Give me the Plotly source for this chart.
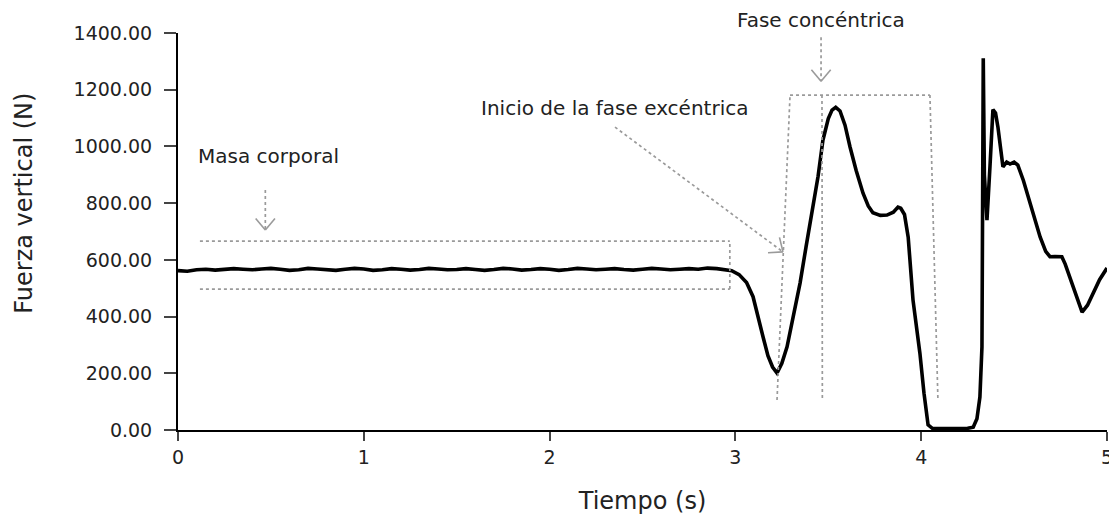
import math
import plotly.graph_objects as go

# ---- data ----
tiempo = [0.00, 0.05, 0.10, 0.15, 0.20, 0.25, 0.30, 0.35, 0.40, 0.45, 0.50, 0.55, 0.60, 0.65,
          0.70, 0.75, 0.80, 0.85, 0.90, 0.95, 1.00, 1.05, 1.10, 1.15, 1.20, 1.25, 1.30, 1.35,
          1.40, 1.45, 1.50, 1.55, 1.60, 1.65, 1.70, 1.75, 1.80, 1.85, 1.90, 1.95, 2.00, 2.05,
          2.10, 2.15, 2.20, 2.25, 2.30, 2.35, 2.40, 2.45, 2.50, 2.55, 2.60, 2.65, 2.70, 2.75,
          2.80, 2.85, 2.90, 2.95, 2.98, 3.02, 3.06, 3.095, 3.12, 3.149, 3.175, 3.20, 3.224,
          3.25, 3.278, 3.31, 3.348, 3.38, 3.418, 3.445, 3.471, 3.50, 3.52, 3.54, 3.563, 3.59,
          3.617, 3.65, 3.687, 3.715, 3.74, 3.78, 3.816, 3.85, 3.875, 3.89, 3.91, 3.93, 3.956,
          3.993, 4.015, 4.037, 4.06, 4.10, 4.15, 4.20, 4.25, 4.28, 4.30, 4.316, 4.327, 4.334,
          4.340, 4.354, 4.37, 4.386, 4.40, 4.413, 4.428, 4.44, 4.46, 4.478, 4.50, 4.52, 4.55,
          4.575, 4.61, 4.64, 4.67, 4.693, 4.72, 4.757, 4.775, 4.80, 4.835, 4.866, 4.895, 4.925,
          4.96, 5.00]
fuerza = [562, 560, 565, 567, 564, 566, 569, 567, 565, 568, 570, 567, 563, 565,
          570, 568, 565, 563, 567, 570, 568, 563, 565, 569, 567, 564, 566, 570,
          568, 565, 566, 569, 566, 563, 566, 570, 568, 564, 566, 569, 567, 563,
          566, 570, 568, 565, 567, 569, 566, 564, 567, 570, 568, 565, 567, 569,
          567, 571, 569, 566, 562, 548, 520, 470, 400, 328, 262, 222, 201,
          235, 293, 390, 518, 645, 786, 895, 1022, 1098, 1128, 1138, 1125, 1075,
          998, 915, 835, 790, 766, 757, 758, 768, 786, 782, 760, 680, 458,
          271, 130, 18, 6, 5, 5, 5, 6, 10, 40, 116, 293, 1311,
          900, 740, 928, 1130, 1118, 1068, 990, 928, 945, 938, 945, 934, 880,
          822, 740, 681, 630, 611, 612, 611, 585, 540, 470, 416, 440, 483,
          530, 571]

x_ticks = [0, 1, 2, 3, 4, 5]
y_ticks = [0, 200, 400, 600, 800, 1000, 1200, 1400]
y_tick_labels = ["%.2f" % v for v in y_ticks]

# pixel-to-data scale of the plot area (929 px for 5 s, 397 px for 1400 N)
PX_X = 929 / 5.0
PX_Y = 397 / 1400.0

FONT = "DejaVu Sans"
TXT = "#222222"
GREY = "#9a9a9a"

fig = go.Figure()
fig.add_trace(go.Scatter(x=tiempo, y=fuerza, mode="lines",
                         line=dict(color="black", width=3.6),
                         showlegend=False, hoverinfo="skip"))

shapes = []


def dline(x0, y0, x1, y1, dash="dot", width=1.7):
    shapes.append(dict(type="line", xref="x", yref="y", x0=x0, y0=y0, x1=x1, y1=y1,
                       line=dict(color=GREY, width=width, dash=dash)))


def arrow(x0, y0, x1, y1, head=15, half=40):
    dline(x0, y0, x1, y1)
    ang = math.atan2((y1 - y0) * PX_Y, (x1 - x0) * PX_X)
    for s in (-1, 1):
        a = ang + math.pi + s * math.radians(half)
        hx = x1 + head * math.cos(a) / PX_X
        hy = y1 + head * math.sin(a) / PX_Y
        dline(hx, hy, x1, y1, dash="solid", width=1.6)


# box around body weight
dline(0.118, 666, 2.97, 666)
dline(0.118, 497, 2.97, 497)
dline(2.97, 497, 2.97, 666)
# concentric phase frame
dline(3.224, 106, 3.294, 1181)
dline(3.294, 1181, 4.047, 1181)
dline(4.047, 1181, 4.09, 106)
dline(3.466, 1181, 3.468, 106)
# arrows
arrow(0.47, 846, 0.47, 705)
arrow(2.352, 1068, 3.256, 628)
arrow(3.461, 1385, 3.461, 1230)

fig.update_layout(shapes=shapes)

font_txt = dict(family=FONT, size=20, color=TXT)
fig.add_annotation(x=0.486, y=968, text="Masa corporal", showarrow=False, font=font_txt,
                   xanchor="center", yanchor="middle")
fig.add_annotation(x=2.347, y=1137, text="Inicio de la fase excéntrica", showarrow=False,
                   font=font_txt, xanchor="center", yanchor="middle")
fig.add_annotation(x=3.461, xref="x", y=1.033, yref="paper", text="Fase concéntrica",
                   showarrow=False, font=font_txt, xanchor="center", yanchor="middle")
# y-axis title (placed as rotated text, slightly above the plot centre as in the reference)
fig.add_annotation(x=-0.166, xref="paper", y=0.572, yref="paper", text="Fuerza vertical (N)",
                   textangle=-90, showarrow=False, font=dict(family=FONT, size=24, color=TXT),
                   xanchor="center", yanchor="middle")

fig.update_xaxes(range=[0, 5], tickvals=x_ticks, ticks="outside", ticklen=9, tickwidth=2,
                 showline=True, linecolor="black", linewidth=2, showgrid=False, zeroline=False,
                 ticklabelstandoff=0, automargin=False,
                 tickfont=dict(family=FONT, size=19, color=TXT),
                 title=dict(text="Tiempo (s)", font=dict(family=FONT, size=24, color=TXT),
                            standoff=25))
fig.update_yaxes(range=[0, 1400], tickvals=y_ticks, ticktext=y_tick_labels, ticks="outside",
                 ticklen=12, tickwidth=2, showline=True, linecolor="black", linewidth=2,
                 showgrid=False, zeroline=False, ticklabelstandoff=8, automargin=False,
                 tickfont=dict(family=FONT, size=19, color=TXT))
# the page adds an 8 px body margin, so the figure is offset by 8 px
fig.update_layout(width=1109, height=512, plot_bgcolor="white", paper_bgcolor="white",
                  margin=dict(l=170, r=10, t=25, b=90))
fig.write_html("out.html")
